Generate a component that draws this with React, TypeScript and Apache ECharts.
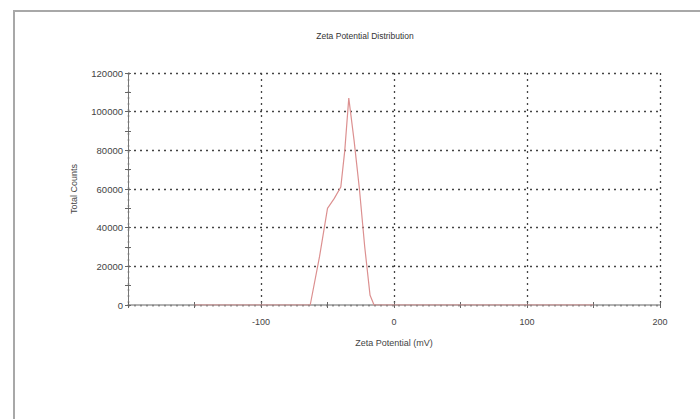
import React, { useEffect, useRef } from "react";
import * as echarts from "echarts";

const titleText = "Zeta Potential Distribution";
const xName = "Zeta Potential (mV)";
const yName = "Total Counts";
const zetaMv = [-150, -63, -56, -50, -45, -40, -37, -34, -30, -26, -22, -18, -15, 150];
const counts = [0, 0, 25000, 50000, 55000, 61000, 80000, 107000, 85000, 60000, 30000, 5000, 0, 0];

export default function App() {
  const ref = useRef<HTMLDivElement>(null);
  useEffect(() => {
    if (!ref.current) return;
    const chart = echarts.init(ref.current, undefined, { renderer: "svg" });
    const font = "Liberation Sans, Arial, sans-serif";
    const data = zetaMv.map((x, i) => [x, counts[i]]);
    const gridLine = { show: true, lineStyle: { color: "#444", type: [2, 4] as any, width: 1.3 } };
    chart.setOption({
      animation: false,
      backgroundColor: "#fff",
      title: {
        text: titleText,
        left: 360,
        top: 26,
        textAlign: "center",
        textStyle: { fontFamily: font, fontSize: 8.5, fontWeight: "normal", color: "#333" },
      },
      graphic: [
        {
          type: "rect",
          shape: { x: 14, y: 11, width: 720, height: 440 },
          style: { fill: "none", stroke: "#a8a8a8", lineWidth: 2 },
          silent: true,
        },
      ],
      grid: { left: 128, right: 40, top: 73, bottom: 114 },
      xAxis: [
        {
          type: "value",
          min: -200,
          max: 200,
          interval: 100,
          name: xName,
          nameLocation: "middle",
          nameGap: 33,
          nameTextStyle: { fontFamily: font, fontSize: 9, color: "#444" },
          axisLine: { show: true, onZero: false, lineStyle: { color: "#999", width: 1.5 } },
          axisTick: { show: true, length: 3, lineStyle: { color: "#666" } },
          minorTick: { show: true, splitNumber: 2, length: 3, lineStyle: { color: "#666" } },
          axisLabel: { fontFamily: font, fontSize: 9, color: "#444", margin: 12, showMinLabel: false },
          splitLine: gridLine,
        },
        {
          type: "value",
          min: -200,
          max: 200,
          interval: 100,
          position: "bottom",
          axisLine: { show: false, onZero: false },
          axisTick: { show: true, inside: true, length: 3, lineStyle: { color: "#666" } },
          minorTick: { show: true, splitNumber: 2, length: 3, lineStyle: { color: "#666" } },
          axisLabel: { show: false },
          splitLine: { show: false },
        },
      ],
      yAxis: [
        {
          type: "value",
          min: 0,
          max: 120000,
          interval: 20000,
          name: yName,
          nameLocation: "middle",
          nameGap: 50,
          nameTextStyle: { fontFamily: font, fontSize: 9, color: "#444" },
          axisLine: { show: true, onZero: false, lineStyle: { color: "#777", width: 1 } },
          axisTick: { show: true, length: 3, lineStyle: { color: "#666" } },
          minorTick: { show: true, splitNumber: 2, length: 3, lineStyle: { color: "#666" } },
          axisLabel: {
            fontFamily: font,
            fontSize: 9.5,
            color: "#444",
            margin: 5,
            formatter: (v: number) => String(v),
          },
          splitLine: gridLine,
        },
        {
          type: "value",
          min: 0,
          max: 120000,
          interval: 20000,
          position: "left",
          axisLine: { show: false, onZero: false },
          axisTick: { show: true, inside: true, length: 3, lineStyle: { color: "#666" } },
          minorTick: { show: true, splitNumber: 2, length: 3, lineStyle: { color: "#666" } },
          axisLabel: { show: false },
          splitLine: { show: false },
        },
      ],
      series: [
        {
          type: "line",
          data,
          showSymbol: false,
          lineStyle: { color: "#dc9090", width: 1.2 },
          z: 5,
        },
      ],
    });
    return () => chart.dispose();
  }, []);
  return (
    <div
      ref={ref}
      style={{ position: "fixed", left: 0, top: 0, width: 700, height: 419 }}
    />
  );
}
